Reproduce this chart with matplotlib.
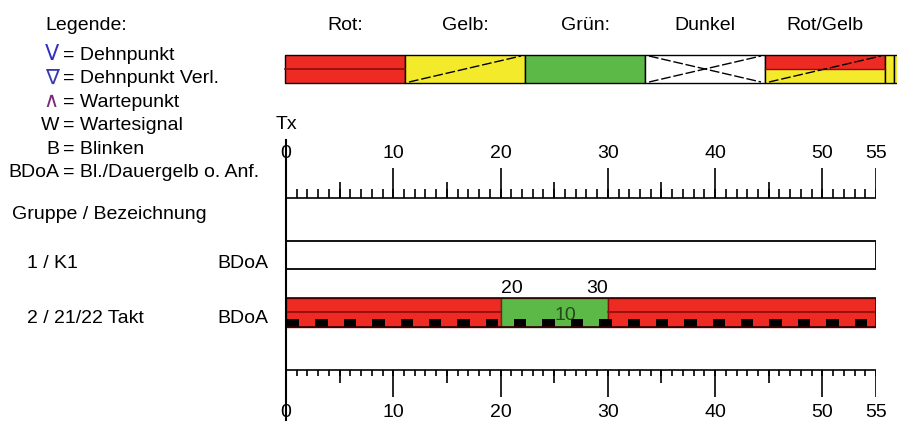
import matplotlib.pyplot as plt
import numpy as np
from matplotlib.patches import Rectangle

plt.rcParams['font.family'] = ['Liberation Sans', 'DejaVu Sans']

# legend on the left
legend_keys = ["V", "∇", "∧", "W", "B", "BDoA"]
legend_text = ["Dehnpunkt", "Dehnpunkt Verl.", "Wartepunkt", "Wartesignal", "Blinken", "Bl./Dauergelb o. Anf."]
legend_key_colors = ["#2f2fc8", "#3a3ab0", "#7a2a78", "black", "black", "black"]

# signal state swatches
state_names = ["Rot:", "Gelb:", "Grün:", "Dunkel", "Rot/Gelb"]

# signal groups
groups = ["1 / K1", "2 / 21/22 Takt"]
group_modes = ["BDoA", "BDoA"]
cycle_time = 55
tick_labels = [0, 10, 20, 30, 40, 50, 55]

# signal plan per group
plan_starts = [[0], [0, 20, 30]]
plan_ends = [[55], [20, 30, 55]]
plan_states = [["Dunkel"], ["Rot", "Grün", "Rot"]]
green_start = 20
green_end = 30

RED = "#ee2b23"
YELLOW = "#f3ea2b"
GREEN = "#5cb947"
DARKRED = "#8a0e0a"
FS = 14

fig = plt.figure(figsize=(8.97, 4.23), dpi=100)

# overlay in pixel coords for the texts and the legend
lay = fig.add_axes([0, 0, 1, 1])
lay.set_xlim(0, 897)
lay.set_ylim(423, 0)
lay.axis('off')

# chart axes: x in Tx units
ax = fig.add_axes([286 / 897, 0, 590 / 897, 1])
ax.set_xlim(0, cycle_time)
ax.set_ylim(423, 0)
ax.axis('off')

# --- left legend ---
lay.text(45, 30, "Legende:", fontsize=FS, va='baseline')
for i, (k, t, c) in enumerate(zip(legend_keys, legend_text, legend_key_colors)):
    y = 60 + i * 23.4
    if i < 3:
        lay.text(59, y, k, fontsize=FS + 1, color=c, ha='right', va='baseline',
                 family=['DejaVu Sans'])
    else:
        lay.text(59, y, k, fontsize=FS, color=c, ha='right', va='baseline')
    lay.text(63, y, "= " + t, fontsize=FS, va='baseline')

# --- swatches on top ---
sw_x, sw_w, sw_y, sw_h = 285, 120, 55, 28
dash = (0, (7, 2))
for i, name in enumerate(state_names):
    x0 = sw_x + i * sw_w
    lay.text(x0 + sw_w / 2, 30, name, fontsize=FS, ha='center', va='baseline')
    if name == "Rot:":
        lay.add_patch(Rectangle((x0, sw_y), sw_w, sw_h, fc=RED, ec='black', lw=1))
        lay.plot([x0, x0 + sw_w], [sw_y + sw_h / 2] * 2, color=DARKRED, lw=1.2)
    elif name == "Gelb:":
        lay.add_patch(Rectangle((x0, sw_y), sw_w, sw_h, fc=YELLOW, ec='black', lw=1))
        lay.plot([x0 + 4, x0 + sw_w - 4], [sw_y + sw_h - 1, sw_y + 1], color='black', lw=1, ls=dash)
    elif name == "Grün:":
        lay.add_patch(Rectangle((x0, sw_y), sw_w, sw_h, fc=GREEN, ec='black', lw=1))
    elif name == "Dunkel":
        lay.add_patch(Rectangle((x0, sw_y), sw_w, sw_h, fc='white', ec='black', lw=1))
        lay.plot([x0 + 4, x0 + sw_w - 4], [sw_y + sw_h - 1, sw_y + 1], color='black', lw=1, ls=dash)
        lay.plot([x0 + 4, x0 + sw_w - 4], [sw_y + 1, sw_y + sw_h - 1], color='black', lw=1, ls=dash)
    else:
        lay.add_patch(Rectangle((x0, sw_y), sw_w, sw_h / 2, fc=RED, ec='none'))
        lay.add_patch(Rectangle((x0, sw_y + sw_h / 2), sw_w, sw_h / 2, fc=YELLOW, ec='none'))
        lay.add_patch(Rectangle((x0, sw_y), sw_w, sw_h, fc='none', ec='black', lw=1))
        lay.plot([x0, x0 + sw_w], [sw_y + sw_h / 2] * 2, color=DARKRED, lw=1)
        lay.plot([x0 + 4, x0 + sw_w - 4], [sw_y + sw_h - 1, sw_y + 1], color='black', lw=1, ls=dash)
# next swatch cut off at the right edge
lay.add_patch(Rectangle((sw_x + 5 * sw_w, sw_y), 9, sw_h, fc=YELLOW, ec='black', lw=1))
lay.add_patch(Rectangle((sw_x + 5 * sw_w + 9, sw_y), 20, sw_h, fc=YELLOW, ec='black', lw=1))

# --- group labels ---
lay.text(12, 219, "Gruppe / Bezeichnung", fontsize=FS, va='baseline')
row_base = [268, 323]
for g, m, yb in zip(groups, group_modes, row_base):
    lay.text(27, yb, g, fontsize=FS, va='baseline')
    lay.text(217, yb, m, fontsize=FS, va='baseline')

# --- rulers ---
minor = np.arange(0, cycle_time + 1)
mid = np.arange(5, cycle_time, 10)
major = np.array(tick_labels)

top_y = 198
ax.plot([0, cycle_time], [top_y, top_y], color='black', lw=1.2)
ax.vlines(minor, top_y - 9, top_y, color='black', lw=1.2)
ax.vlines(mid, top_y - 16, top_y, color='black', lw=1.2)
ax.vlines(major, top_y - 30, top_y, color='black', lw=1.2)
for t in tick_labels:
    ax.text(t, 158, str(t), fontsize=FS, ha='center', va='baseline', clip_on=False)
ax.text(0, 129, "Tx", fontsize=FS, ha='center', va='baseline')

bot_y = 370
ax.plot([0, cycle_time], [bot_y, bot_y], color='black', lw=1.2)
ax.vlines(minor, bot_y, bot_y + 6, color='black', lw=1.2)
ax.vlines(mid, bot_y, bot_y + 13, color='black', lw=1.2)
ax.vlines(major, bot_y, bot_y + 27, color='black', lw=1.2)
for t in tick_labels:
    ax.text(t, 417, str(t), fontsize=FS, ha='center', va='baseline', clip_on=False)

# vertical time axis
ax.plot([0, 0], [140, 420], color='black', lw=1.5, zorder=10, clip_on=False)

# --- signal bars ---
row_top = [241, 298]
row_h = [28, 29]
for r in range(len(groups)):
    y0, h = row_top[r], row_h[r]
    for s, e, st in zip(plan_starts[r], plan_ends[r], plan_states[r]):
        if st == "Dunkel":
            ax.add_patch(Rectangle((s, y0), e - s, h, fc='white', ec='black', lw=1.3))
        elif st == "Rot":
            ax.add_patch(Rectangle((s, y0), e - s, h, fc=RED, ec=DARKRED, lw=1))
            ax.plot([s, e], [y0 + 14, y0 + 14], color=DARKRED, lw=1.2)
        elif st == "Grün":
            ax.add_patch(Rectangle((s, y0), e - s, h, fc=GREEN, ec='#2a4a1a', lw=1))
    if plan_states[r] != ["Dunkel"]:
        # blink pattern of BDoA along the bottom of the bar
        for x in np.arange(0.1, cycle_time - 1, 2.645):
            ax.add_patch(Rectangle((x, y0 + 21), 1.15, 8, fc='black', ec='none', zorder=3))
        ax.add_patch(Rectangle((0, y0), cycle_time, h, fc='none', ec='#300000', lw=1.2, zorder=4))

# green times above the green phase
y0 = row_top[1]
ax.text(green_start, y0 - 5, str(green_start), fontsize=FS, ha='left', va='baseline')
ax.text(green_end, y0 - 5, str(green_end), fontsize=FS, ha='right', va='baseline')
ax.text((green_start + green_end) / 2, y0 + 22, str(green_end - green_start), fontsize=FS,
        ha='left', va='baseline', color='#234a18', zorder=5)

fig.savefig("out.png", dpi=100)
